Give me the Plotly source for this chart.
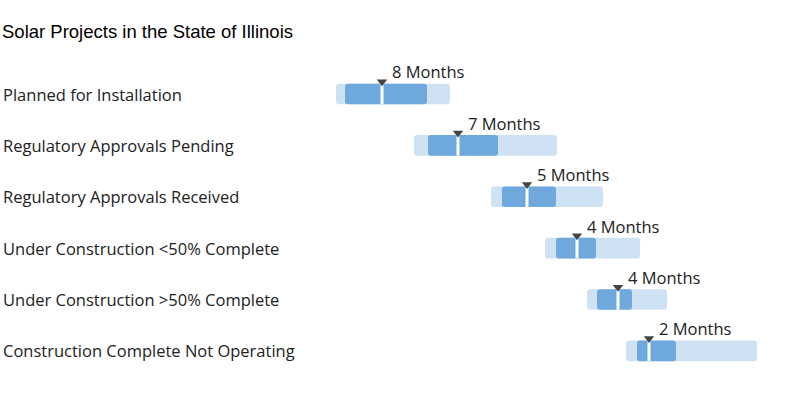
import plotly.graph_objects as go

categories = [
    "Planned for Installation",
    "Regulatory Approvals Pending",
    "Regulatory Approvals Received",
    "Under Construction <50% Complete",
    "Under Construction >50% Complete",
    "Construction Complete Not Operating",
]
low = [3.6, 11.4, 19.1, 24.5, 28.7, 32.6]
q1 = [4.5, 12.8, 20.2, 25.6, 29.7, 33.7]
median = [8.2, 15.8, 22.7, 27.7, 31.8, 34.9]
q3 = [12.7, 19.8, 25.6, 29.6, 33.2, 37.6]
high = [15.0, 25.7, 30.3, 34.0, 36.7, 45.7]
month_labels = ["8 Months", "7 Months", "5 Months", "4 Months", "4 Months", "2 Months"]

ypos = list(range(len(categories)))

LIGHT = "#cfe2f3"
DARK = "#6fa8dc"
LABEL_FONT = "Open Sans"

fig = go.Figure()

fig.add_trace(go.Bar(
    y=ypos, x=[h - l for h, l in zip(high, low)], base=low, orientation="h",
    width=0.4, marker=dict(color=LIGHT, line=dict(width=0), cornerradius=3),
    hoverinfo="skip", showlegend=False,
))
fig.add_trace(go.Bar(
    y=ypos, x=[b - a for a, b in zip(q1, q3)], base=q1, orientation="h",
    width=0.4, marker=dict(color=DARK, line=dict(width=0), cornerradius=3),
    hoverinfo="skip", showlegend=False,
))

# median white lines
mx, my = [], []
for i, m in enumerate(median):
    mx += [m, m, None]
    my += [i - 0.21, i + 0.2, None]
fig.add_trace(go.Scatter(x=mx, y=my, mode="lines", line=dict(color="white", width=3),
                         hoverinfo="skip", showlegend=False))

# triangles
fig.add_trace(go.Scatter(
    x=median, y=[i - 0.24 for i in ypos], mode="markers",
    marker=dict(symbol="triangle-down", size=9, color="#444444"),
    hoverinfo="skip", showlegend=False,
))

annotations = []
for i, (m, lab) in enumerate(zip(median, month_labels)):
    annotations.append(dict(
        x=m, y=i - 0.43, xref="x", yref="y", text=lab, showarrow=False,
        xanchor="left", yanchor="middle", xshift=8,
        font=dict(family=LABEL_FONT, size=16.5, color="#222222"),
    ))
for i, c in enumerate(categories):
    annotations.append(dict(
        x=0, y=i, xref="paper", yref="y", text=c, showarrow=False,
        xanchor="left", yanchor="middle", xshift=1,
        font=dict(family=LABEL_FONT, size=16.5, color="#222222"),
    ))

fig.update_layout(
    width=785, height=393,
    margin=dict(l=0, r=0, t=0, b=0),
    paper_bgcolor="white", plot_bgcolor="white",
    barmode="overlay",
    title=dict(text="Solar Projects in the State of Illinois", x=0, xanchor="left",
               xref="paper", pad=dict(l=2),
               y=1 - 32 / 393, yanchor="middle",
               font=dict(family="Liberation Sans, Arial", size=18.5, color="#000000")),
    xaxis=dict(range=[-30, 48.5], visible=False, fixedrange=True),
    yaxis=dict(range=[5.82, -1.83], visible=False, fixedrange=True),
    annotations=annotations,
)

fig.write_html("out.html", config={"displayModeBar": False},
               post_script="document.body.style.margin='0';")
